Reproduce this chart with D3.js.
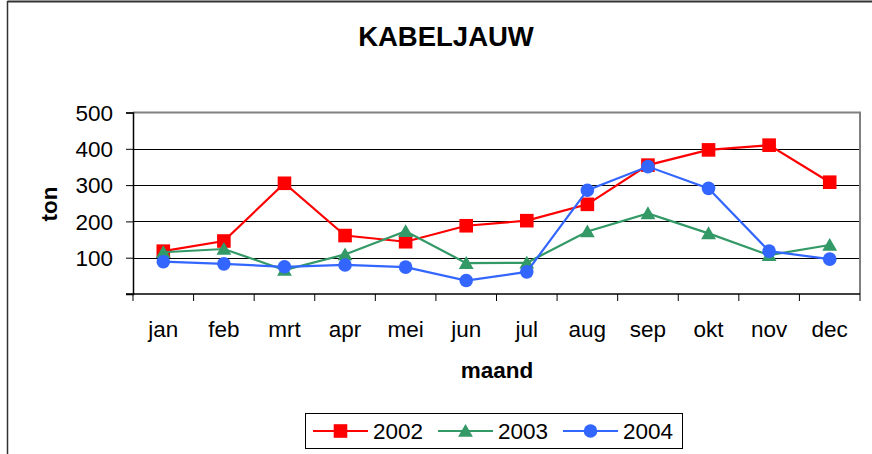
<!DOCTYPE html>
<html><head><meta charset="utf-8">
<script src="https://cdn.jsdelivr.net/npm/d3@7/dist/d3.min.js"></script>
<style>html,body{margin:0;padding:0;background:#fff}svg{display:block;font-family:"Liberation Sans",Arial,sans-serif}</style>
</head><body>
<script>
const months = ["jan","feb","mrt","apr","mei","jun","jul","aug","sep","okt","nov","dec"];
const years = ["2002","2003","2004"];
const v2002 = [118,146,305,161,144,188,202,247,355,397,410,308];
const v2003 = [115,124,66,109,173,85,86,172,222,167,107,135];
const v2004 = [89,83,75,80,74,37,61,286,351,291,118,96];
const yTicks = [100,200,300,400,500];
const colors = ["#ff0000","#339966","#3366ff"];
const symbols = [d3.symbolSquare, d3.symbolTriangle, d3.symbolCircle];
const symSizes = [185, 95, 145];
const seriesVals = [v2002, v2003, v2004];

const W = 872, H = 454;
const FS = 22.5;
const svg = d3.select("body").append("svg").attr("width", W).attr("height", H);

// outer frame
svg.append("line").attr("x1",7.5).attr("x2",W).attr("y1",1.5).attr("y2",1.5).attr("stroke","#333").attr("stroke-width",2);
svg.append("line").attr("x1",7.5).attr("x2",7.5).attr("y1",1).attr("y2",H).attr("stroke","#333").attr("stroke-width",1.5);

const L = 133, R = 860, T = 112.5, B = 294;
const x = d3.scaleBand().domain(months).range([L, R]);
const y = d3.scaleLinear().domain([0, 500]).range([B, T]);

// gridlines
svg.append("g").selectAll("line").data(yTicks.filter(t => t < 500)).join("line")
  .attr("x1", L).attr("x2", R).attr("y1", d => Math.round(y(d)) + 0.5).attr("y2", d => Math.round(y(d)) + 0.5)
  .attr("stroke", "#000").attr("stroke-width", 1);

// plot border (top/right gray)
svg.append("path").attr("d", `M${L},${T}H${R}V${B}`).attr("fill","none").attr("stroke","#808080").attr("stroke-width",2);

// y axis
const yAxis = d3.axisLeft(y).tickValues([0, ...yTicks]).tickSize(7).tickFormat(d => d === 0 ? "" : d);
const gy = svg.append("g").attr("transform", `translate(${L},0)`).call(yAxis);
gy.select(".domain").attr("stroke","#000").attr("stroke-width",1.5);
gy.selectAll(".tick line").attr("stroke","#000");
gy.selectAll("text").attr("font-size", FS).attr("fill","#000").attr("x", -20).attr("dy", "0.35em")
  .attr("font-family","Liberation Sans, Arial, sans-serif");

// x axis: ticks at category boundaries
const bounds = months.map(m => x(m)).concat([R]);
const gx = svg.append("g");
gx.append("line").attr("x1", L - 7).attr("x2", R).attr("y1", B).attr("y2", B).attr("stroke","#000").attr("stroke-width",1.5);
gx.selectAll("line.tk").data(bounds).join("line").attr("class","tk")
  .attr("x1", d => d).attr("x2", d => d).attr("y1", B).attr("y2", B + 7).attr("stroke","#000");
gx.selectAll("text").data(months).join("text")
  .attr("x", d => x(d) + x.bandwidth() / 2).attr("y", 337).attr("text-anchor","middle")
  .attr("font-size", FS).attr("fill","#000").text(d => d);

// titles
svg.append("text").attr("x", 446).attr("y", 46).attr("text-anchor","middle").attr("font-size", 27.5)
  .attr("font-weight","bold").text("KABELJAUW");
svg.append("text").attr("x", 497).attr("y", 378).attr("text-anchor","middle").attr("font-size", FS)
  .attr("font-weight","bold").text("maand");
svg.append("text").attr("transform","translate(57,204) rotate(-90)").attr("text-anchor","middle").attr("font-size", FS)
  .attr("font-weight","bold").text("ton");

// series
const line = d3.line().x((d, i) => x(months[i]) + x.bandwidth() / 2).y(d => y(d));
seriesVals.forEach((vals, si) => {
  const g = svg.append("g");
  g.append("path").datum(vals).attr("d", line).attr("fill","none").attr("stroke", colors[si]).attr("stroke-width", 2.2);
  g.selectAll("path.m").data(vals).join("path").attr("class","m")
    .attr("d", d3.symbol().type(symbols[si]).size(symSizes[si]))
    .attr("transform", (d, i) => `translate(${x(months[i]) + x.bandwidth() / 2},${y(d) + (si === 1 ? 1.5 : 0)})`)
    .attr("fill", colors[si]);
});

// legend
const lg = svg.append("g");
lg.append("rect").attr("x", 305.5).attr("y", 413.5).attr("width", 377).attr("height", 35).attr("fill","#fff").attr("stroke","#000").attr("stroke-width",1);
const lx = [313, 438, 563];
years.forEach((yr, i) => {
  const cx = lx[i];
  lg.append("line").attr("x1", cx).attr("x2", cx + 55).attr("y1", 431).attr("y2", 431).attr("stroke", colors[i]).attr("stroke-width", 2);
  lg.append("path").attr("d", d3.symbol().type(symbols[i]).size(symSizes[i])())
    .attr("transform", `translate(${cx + 27.5},${431 + (i === 1 ? 1.5 : 0)})`).attr("fill", colors[i]);
  lg.append("text").attr("x", cx + 60).attr("y", 439).attr("font-size", FS).attr("fill","#000").text(yr);
});
</script>
</body></html>
